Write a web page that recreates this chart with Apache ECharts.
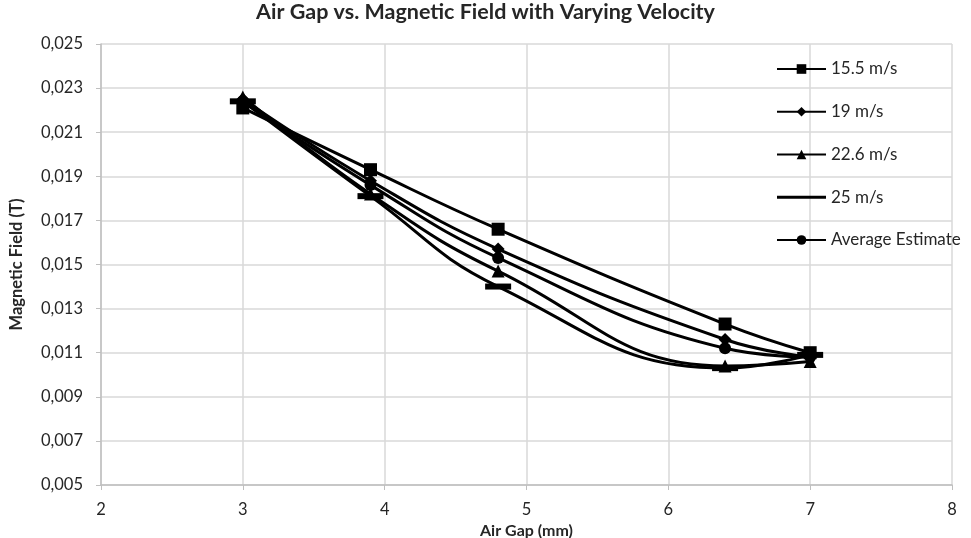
<!DOCTYPE html>
<html>
<head>
<meta charset="utf-8">
<script src="https://cdn.jsdelivr.net/npm/echarts@6/dist/echarts.min.js"></script>
<style>html,body{margin:0;padding:0;background:#fff}#c{width:971px;height:538px}</style>
</head>
<body>
<div id="c"></div>
<script>
var airGap = [3, 3.9, 4.8, 6.4, 7];
var v155 = [0.0221, 0.0193, 0.0166, 0.0123, 0.0110];
var v19 = [0.0225, 0.0188, 0.0157, 0.0116, 0.0108];
var v226 = [0.0226, 0.0182, 0.0147, 0.0104, 0.0106];
var v25 = [0.0224, 0.0181, 0.0140, 0.0103, 0.0109];
var vAvg = [0.0224, 0.0186, 0.0153, 0.0112, 0.0108];
var seriesNames = ['15.5 m/s', '19 m/s', '22.6 m/s', '25 m/s', 'Average Estimate'];

function pairs(vals){ return airGap.map(function(x,i){ return [x, vals[i]]; }); }

var FONT = 'Lato, "Open Sans", sans-serif';
var symbols = ['rect', 'diamond', 'triangle', 'rect', 'circle'];
var sizes = [13, 13, 13, [26,6], 12];
var datas = [v155, v19, v226, v25, vAvg];

var series = seriesNames.map(function(n, i){
  return {
    name: n, type: 'line', data: pairs(datas[i]), smooth: 0.45,
    symbol: symbols[i], symbolSize: sizes[i],
    lineStyle: {color: '#000', width: 3},
    itemStyle: {color: '#000'},
    emphasis: {disabled: true}
  };
});

var legendData = seriesNames.map(function(n, i){
  if (i === 3) {
    return {name: n, icon: 'path://M0,0L0.01,0M0,4.5H49V7.5H0ZM49,12L48.99,12'};
  }
  return {name: n};
});

var chart = echarts.init(document.getElementById('c'));
chart.setOption({
  animation: false,
  title: {
    text: 'Air Gap vs. Magnetic Field with Varying Velocity',
    left: 'center', top: 1, padding: 0,
    textStyle: {fontFamily: FONT, fontSize: 21.5, fontWeight: 'bold', color: '#262626'}
  },
  grid: {left: 101, right: 19, top: 44, bottom: 53, containLabel: false, outerBoundsMode: 'none'},
  legend: {
    orient: 'vertical', left: 776, top: 60.5, padding: 0,
    itemWidth: 49, itemHeight: 12, itemGap: 25.75,
    data: legendData,
    textStyle: {fontFamily: FONT, fontSize: 17, color: '#262626'}
  },
  xAxis: {
    type: 'value', min: 2, max: 8, interval: 1,
    name: 'Air Gap (mm)', nameLocation: 'middle', nameGap: 32,
    nameTextStyle: {fontFamily: FONT, fontSize: 16, fontWeight: 'bold', color: '#262626'},
    axisLine: {show: true, lineStyle: {color: '#bfbfbf', width: 1.5}},
    axisTick: {show: true, length: 5, lineStyle: {color: '#bfbfbf'}},
    splitLine: {show: true, lineStyle: {color: '#d9d9d9', width: 1.5}},
    axisLabel: {fontFamily: FONT, fontSize: 16.5, color: '#262626', margin: 16}
  },
  yAxis: {
    type: 'value', min: 0.005, max: 0.025, interval: 0.002,
    name: 'Magnetic Field (T)', nameLocation: 'middle', nameGap: 76, nameRotate: 90,
    nameTextStyle: {fontFamily: FONT, fontSize: 16.5, fontWeight: 'bold', color: '#262626'},
    axisLine: {show: true, lineStyle: {color: '#bfbfbf', width: 1.5}},
    axisTick: {show: true, length: 5, lineStyle: {color: '#bfbfbf'}},
    splitLine: {show: true, lineStyle: {color: '#d9d9d9', width: 1.5}},
    axisLabel: {
      fontFamily: FONT, fontSize: 16.5, color: '#262626', margin: 18,
      formatter: function(v){ return v.toFixed(3).replace('.', ','); }
    }
  },
  series: series
});
</script>
</body>
</html>
